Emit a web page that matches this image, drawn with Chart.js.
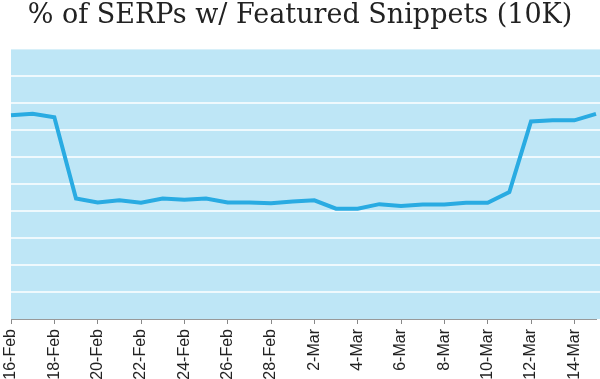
<!DOCTYPE html>
<html>
<head>
<meta charset="utf-8">
<script src="https://cdn.jsdelivr.net/npm/chart.js@4/dist/chart.umd.min.js"></script>
<style>
  html, body { margin: 0; padding: 0; background: #fff; }
  #wrap { width: 600px; height: 379px; }
</style>
</head>
<body>
<div id="wrap"><canvas id="chartLine"></canvas></div>
<script>
const labels = [
  "16-Feb", "17-Feb", "18-Feb", "19-Feb", "20-Feb", "21-Feb", "22-Feb",
  "23-Feb", "24-Feb", "25-Feb", "26-Feb", "27-Feb", "28-Feb", "1-Mar",
  "2-Mar", "3-Mar", "4-Mar", "5-Mar", "6-Mar", "7-Mar", "8-Mar",
  "9-Mar", "10-Mar", "11-Mar", "12-Mar", "13-Mar", "14-Mar", "15-Mar",
];
const snippetShare = [
  75.6, 76.1, 74.8, 44.7, 43.2, 44.0, 43.1,
  44.7, 44.2, 44.7, 43.2, 43.2, 42.9, 43.6,
  44.0, 40.9, 40.9, 42.6, 41.9, 42.5, 42.5,
  43.1, 43.1, 47.1, 73.3, 73.7, 73.7, 76.1,
];

// light blue fill behind the plot area, white rules running to the right edge
const plotBackground = {
  id: "plotBackground",
  beforeDatasetsDraw(chart) {
    const { ctx, chartArea } = chart;
    const y = chart.scales.y;
    ctx.save();
    ctx.fillStyle = "#bee6f6";
    ctx.fillRect(chartArea.left, chartArea.top, chart.width - chartArea.left, chartArea.bottom - chartArea.top);
    ctx.strokeStyle = "#ffffff";
    ctx.lineWidth = 1.5;
    y.ticks.forEach((t) => {
      if (t.value <= 0 || t.value >= 100) return;
      const py = Math.round(y.getPixelForValue(t.value));
      ctx.beginPath();
      ctx.moveTo(chartArea.left, py);
      ctx.lineTo(chart.width, py);
      ctx.stroke();
    });
    ctx.restore();
  },
};

const configLineChart = {
  type: "line",
  data: {
    labels: labels,
    datasets: [
      {
        label: "% of SERPs w/ Featured Snippets",
        data: snippetShare,
        borderColor: "#29abe2",
        borderWidth: 4,
        pointRadius: 0,
        tension: 0,
        fill: false,
      },
    ],
  },
  options: {
    responsive: true,
    maintainAspectRatio: false,
    animation: false,
    layout: { padding: 0 },
    plugins: {
      legend: { display: false },
      tooltip: { enabled: false },
      title: {
        display: true,
        text: "% of SERPs w/ Featured Snippets (10K)",
        color: "#222",
        font: { family: "DejaVu Serif", size: 27, weight: "normal" },
        padding: { top: 0, bottom: 17 },
      },
    },
    scales: {
      x: {
        grid: {
          drawOnChartArea: false,
          tickLength: 5,
          tickColor: (c) => (c.index % 2 === 0 ? "#888" : "rgba(0,0,0,0)"),
        },
        border: { display: true, color: "#999", width: 1 },
        ticks: {
          autoSkip: false,
          maxRotation: 90,
          minRotation: 90,
          padding: 5,
          color: "#222",
          font: { family: "Liberation Sans", size: 16 },
          callback: function (value, index) {
            return index % 2 === 0 ? labels[index] : "";
          },
        },
        afterFit: function (axis) {
          axis.paddingLeft = 11;
          axis.paddingRight = 4;
          axis.height = 60;
        },
      },
      y: {
        min: 0,
        max: 100,
        ticks: { display: false, stepSize: 10 },
        grid: { display: false, drawTicks: false },
        border: { display: false },
      },
    },
  },
  plugins: [plotBackground],
};

var chartLine = new Chart(document.getElementById("chartLine"), configLineChart);
</script>
</body>
</html>
